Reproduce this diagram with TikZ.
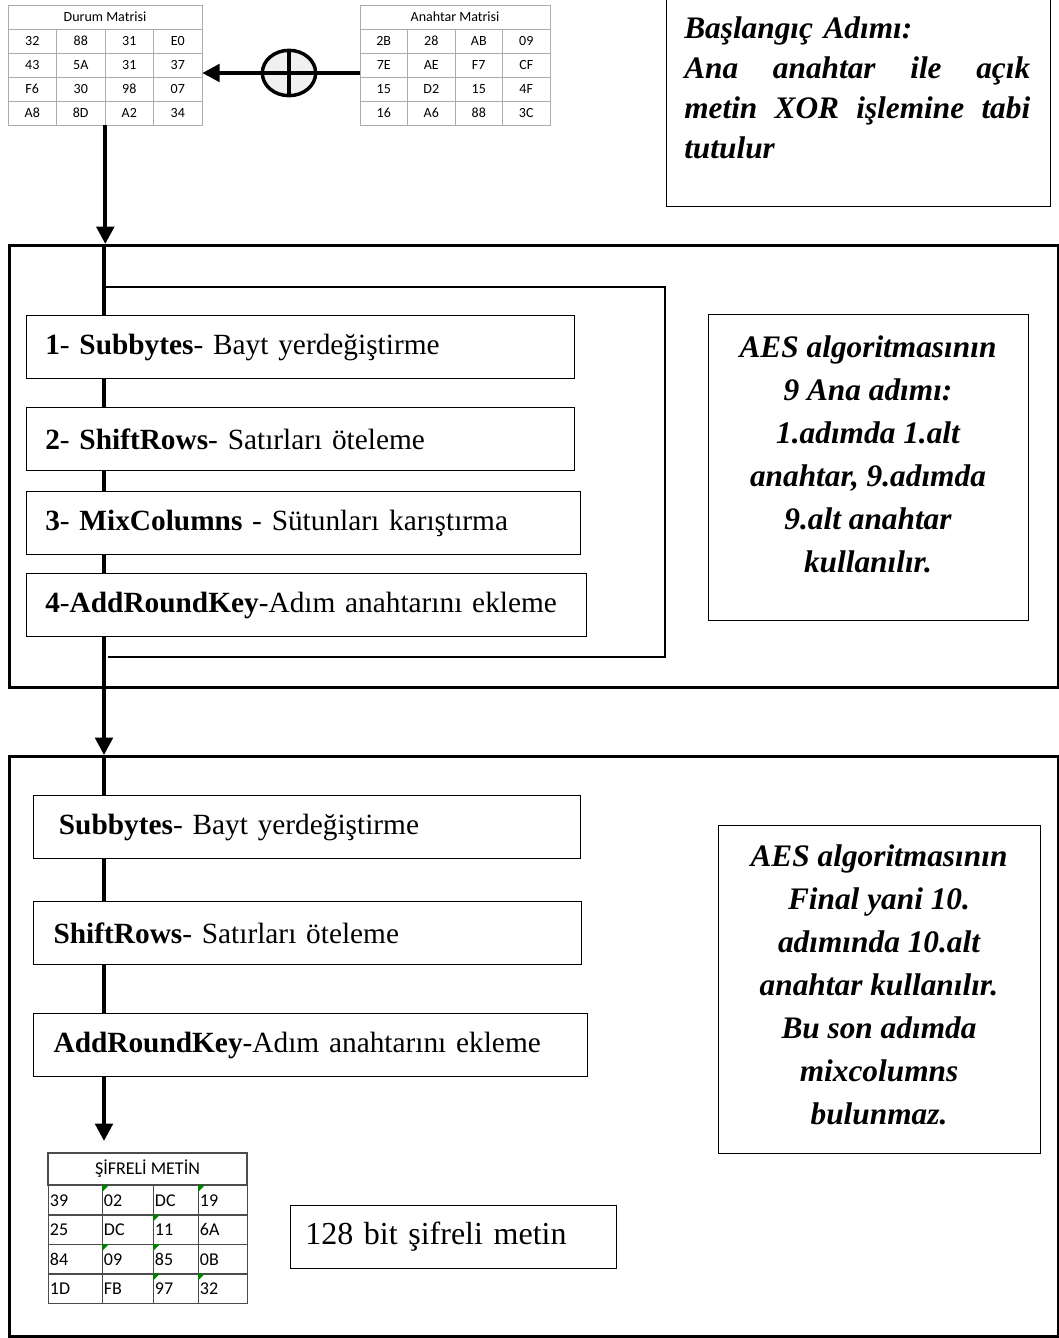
\documentclass[tikz,border=0pt]{standalone}
\usepackage{fontspec}
\setmainfont{Liberation Serif}
\newfontfamily\calibri{Carlito}
\usetikzlibrary{positioning, arrows.meta, shapes.geometric, calc}
\definecolor{yesil}{RGB}{0,128,0}
\tikzstyle{hucre}=[draw=gray!65, minimum width=36.4pt, minimum height=18pt, inner sep=0pt, font=\calibri\fontsize{10.5}{12}\selectfont]
\tikzstyle{sifre}=[draw=black!70, line width=0.9pt, minimum height=22.1pt, inner sep=0pt, font=\calibri\fontsize{13.5}{15}\selectfont]
\tikzstyle{kalin}=[line width=3pt]
\tikzstyle{ok}=[kalin, -{Triangle[length=13pt,width=13pt]}]
\tikzstyle{adim}=[draw, line width=0.9pt, minimum height=47.25pt, inner xsep=14pt, align=left, anchor=north west, font=\fontsize{22}{26}\selectfont]
\tikzstyle{kutu}=[draw, line width=2.5pt, anchor=north west]
\tikzstyle{bilgi}=[draw, line width=0.9pt, anchor=north west]
\tikzstyle{bilgiyazi}=[align=center, inner sep=0pt, font=\bfseries\itshape\fontsize{23.5}{32.25}\selectfont]

\begin{document}
\begin{tikzpicture}[x=0.75pt, y=-0.75pt]
        \useasboundingbox (0,0) rectangle (1059,1338);

        % Durum matrisi
        \node[hucre, minimum width=145.5pt] (durum) at (105,17) {Durum Matrisi};
        \foreach \satir [count=\r] in {{32,88,31,E0},{43,5A,31,37},{F6,30,98,07},{A8,8D,A2,34}}
          \foreach \v [count=\c] in \satir
            \node[hucre] (d\r\c) at ({8+48.5*\c-24.25}, {5+24*\r+12}) {\v};

        % Anahtar matrisi
        \node[hucre, minimum width=142.5pt] (anahtar) at (455,17) {Anahtar Matrisi};
        \foreach \satir [count=\r] in {{2B,28,AB,09},{7E,AE,F7,CF},{15,D2,15,4F},{16,A6,88,3C}}
          \foreach \v [count=\c] in \satir
            \node[hucre, minimum width=35.6pt] (a\r\c) at ({360+47.5*\c-23.75}, {5+24*\r+12}) {\v};

        % XOR
        \node[ellipse, draw, line width=2.6pt, fill=gray!12, minimum width=40pt, minimum height=34pt,
          path picture={\draw[kalin]
            (path picture bounding box.north) -- (path picture bounding box.south)
            (path picture bounding box.west) -- (path picture bounding box.east);}] (xor) at (289,73) {};
        \draw[kalin] (a21.west |- xor) -- (xor.east);
        \draw[ok] (xor.west) -- (xor -| d24.east);

        % Baslangic adimi
        \node[draw, line width=0.9pt, minimum width=288pt, minimum height=165pt, anchor=south west] (baslangic) at (666,207) {};
        \node[anchor=north west, text width=259.5pt, align=left, inner sep=0pt,
          font=\bfseries\itshape\fontsize{23.5}{30}\selectfont] (baslangicyazi) at (684,16)
          {Başlangıç Adımı:\\Ana\hfill anahtar\hfill ile\hfill açık\\metin\hfill XOR\hfill işlemine\hfill tabi\\tutulur};

        % 9 ana adim
        \coordinate (hat) at (104,0);
        \node[kutu, minimum width=786.75pt, minimum height=331.5pt] (tur) at (8,244) {};
        \draw[ok] (d42.south east) -- (d42.south east |- tur.north);
        \draw[line width=0.9pt] (104,287) -- (665,287) -- (665,657) -- (108,657);

        \node[adim, text width=383pt] (sub) at (26,315) {\textbf{1}- \textbf{Subbytes}- Bayt yerdeğiştirme};
        \node[adim, text width=383pt] (shift) at (26,407) {\textbf{2}- \textbf{ShiftRows}- Satırları öteleme};
        \node[adim, text width=387.5pt] (mix) at (26,491) {\textbf{3}- \textbf{MixColumns} - Sütunları karıştırma};
        \node[adim, text width=392pt] (add) at (26,573) {\textbf{4}-\textbf{AddRoundKey}-Adım anahtarını ekleme};
        \draw[kalin] (hat |- tur.north) -- (hat |- sub.north)
          (hat |- sub.south) -- (hat |- shift.north)
          (hat |- shift.south) -- (hat |- mix.north)
          (hat |- mix.south) -- (hat |- add.north);

        \node[bilgi, minimum width=240pt, minimum height=229.5pt] (dokuz) at (708,314) {};
        \node[bilgiyazi] (dokuzyazi) at (868,454)
          {AES algoritmasının\\9 Ana adımı:\\1.adımda 1.alt\\anahtar, 9.adımda\\9.alt anahtar\\kullanılır.};

        % Final adimi
        \node[kutu, minimum width=786.75pt, minimum height=435pt] (final) at (8,755) {};
        \draw[ok] (hat |- add.south) -- (hat |- final.north);

        \node[adim, inner xsep=19pt, text width=372pt] (fsub) at (33,795) {\textbf{Subbytes}- Bayt yerdeğiştirme};
        \node[adim, inner xsep=15pt, text width=381pt] (fshift) at (33,901) {\textbf{ShiftRows}- Satırları öteleme};
        \node[adim, inner xsep=15pt, text width=385.5pt] (fadd) at (33,1013) {\textbf{AddRoundKey}-Adım anahtarını ekleme};
        \coordinate (son) at (104,1141);
        \draw[kalin] (hat |- final.north) -- (hat |- fsub.north)
          (hat |- fsub.south) -- (hat |- fshift.north)
          (hat |- fshift.south) -- (hat |- fadd.north);
        \draw[ok] (hat |- fadd.south) -- (son);

        \node[bilgi, minimum width=241.5pt, minimum height=246pt] (onuncu) at (718,825) {};
        \node[bilgiyazi] (onuncuyazi) at (879,985)
          {AES algoritmasının\\Final yani 10.\\adımında 10.alt\\anahtar kullanılır.\\Bu son adımda\\mixcolumns\\bulunmaz.};

        % Sifreli metin
        \node[sifre, minimum width=149.25pt, minimum height=24pt] (sifreli) at (147.5,1169) {ŞİFRELİ METİN};
        \foreach \satir [count=\r] in {{39,02,DC,19},{25,DC,11,6A},{84,09,85,0B},{1D,FB,97,32}}
          \foreach \v [count=\c] in \satir {
            \pgfmathsetmacro\xs{{48,102,153,198}[\c-1]}
            \pgfmathsetmacro\tw{{54,51,45,49}[\c-1]*0.75-2}
            \node[sifre, anchor=north west, inner xsep=1pt, text width=\tw pt, align=left] (s\r\c) at (\xs, {1185+29.5*(\r-1)}) {\v};
          }
        \foreach \r/\c in {1/2,1/4,2/3,3/2,3/3,4/3,4/4}
          \fill[yesil] (s\r\c.north west) -- ++(7,0) -- ++(-7,7) -- cycle;

        \node[draw, line width=0.9pt, anchor=north west, minimum height=47.25pt, inner xsep=11pt,
          text width=222.5pt, align=left, font=\fontsize{24}{28}\selectfont] (metin) at (290,1205) {128 bit şifreli metin};
\end{tikzpicture}
\end{document}
